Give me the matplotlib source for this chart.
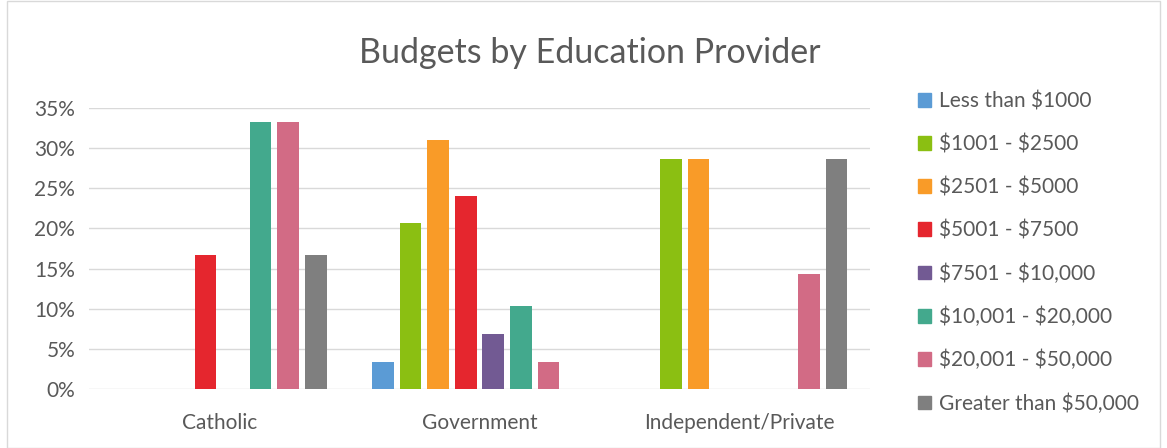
import matplotlib.pyplot as plt
import matplotlib.patches as mpatches
import numpy as np

plt.rcParams['font.family'] = ['Lato', 'DejaVu Sans']
plt.rcParams['text.parse_math'] = False

categories = ['Catholic', 'Government', 'Independent/Private']
series = ['Less than $1000', '$1001 - $2500', '$2501 - $5000', '$5001 - $7500',
          '$7501 - $10,000', '$10,001 - $20,000', '$20,001 - $50,000',
          'Greater than $50,000']
# percent of respondents, rows = series, columns = categories
values = [
    [0.0, 3.4, 0.0],
    [0.0, 20.7, 28.6],
    [0.0, 31.0, 28.6],
    [16.7, 24.1, 0.0],
    [0.0, 6.9, 0.0],
    [33.3, 10.3, 0.0],
    [33.3, 3.4, 14.3],
    [16.7, 0.0, 28.6],
]
colors = ['#5B9BD5', '#8BBF12', '#F99B28', '#E5262E', '#725A93',
          '#43A98D', '#D26B85', '#7F7F7F']

TEXT = '#595959'

fig = plt.figure(figsize=(11.67, 4.48), dpi=100)
ax = fig.add_axes([89/1167, 1 - 389/448, 781/1167, (389 - 108)/448])

x = np.arange(len(categories))
n = len(series)
step = 0.106
width = 0.083
for i, (name, vals) in enumerate(zip(series, values)):
    ax.bar(x + (i - (n - 1)/2)*step, vals, width, color=colors[i], label=name,
           zorder=3)

ax.set_xlim(-0.5, 2.5)
ax.set_ylim(0, 35)
ax.set_yticks(range(0, 36, 5))
ax.set_yticklabels([f'{t}%' for t in range(0, 36, 5)])
ax.set_xticks(x)
ax.set_xticklabels(categories)
ax.tick_params(axis='both', length=0, labelsize=15, colors=TEXT)
ax.tick_params(axis='x', pad=17)
ax.tick_params(axis='y', pad=10)
ax.grid(axis='y', color='#D9D9D9', linewidth=1, zorder=0)
for s in ax.spines.values():
    s.set_visible(False)

fig.text(590/1167, 1 - 53/448, 'Budgets by Education Provider', ha='center',
         va='center', fontsize=24.5, color=TEXT)

handles = [mpatches.Patch(color=c) for c in colors]
leg = fig.legend(handles, series, loc='upper left',
                 bbox_to_anchor=(899/1167, 1 - 73/448), frameon=False,
                 fontsize=15, labelcolor=TEXT, handlelength=0.65,
                 handleheight=0.65, handletextpad=0.35, labelspacing=1.1)

fig.patches.append(mpatches.Rectangle((7/1167, 0), 1153/1167, 0.998,
                                      transform=fig.transFigure, fill=False,
                                      edgecolor='#D9D9D9', linewidth=1))

fig.savefig('out.png', dpi=100)
